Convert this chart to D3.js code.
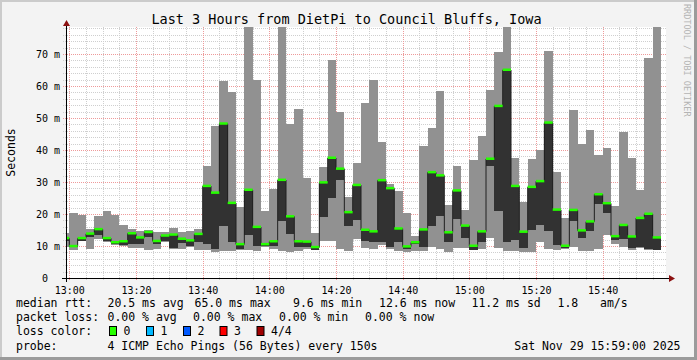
<!DOCTYPE html>
<html><head><meta charset="utf-8">
<script src="https://cdn.jsdelivr.net/npm/d3@7"></script>
<style>
html,body{margin:0;padding:0;background:#f3f3f3;}
svg{display:block;}
text{font-family:"DejaVu Sans Mono",monospace;}
</style></head><body>
<svg id="c" width="697" height="360"></svg>
<script>
const titleText = "Last 3 Hours from DietPi to Council Bluffs, Iowa";
const yAxisTitle = "Seconds";
const sideText = "RRDTOOL / TOBI OETIKER";
const startTime = "2025-11-29T12:59:00Z";
const endTime = "2025-11-29T15:59:00Z";
const firstBarStart = "2025-11-29T12:57:30Z";
const stepSeconds = 150;
const yTicks = [0, 10, 20, 30, 40, 50, 60, 70];
const yMax = 78.44;

// ping values in ms, one entry per 150 s step
const minRtt = [9.8,8.8,11.5,9.2,12.3,11.4,10.2,10.1,9.5,9.5,8.8,9.2,11.3,9.2,9.2,9.7,8.8,8.8,8.2,8.4,8.4,8.8,8.8,8.4,9.8,9.2,8.4,8.2,8.4,9.0,8.6,11.7,11.7,9.2,8.4,12.2,9.5,9.2,10.2,9.0,8.4,8.2,8.4,8.4,9.7,9.0,8.2,9.5,9.5,8.7,9.0,12.6,9.5,8.4,8.4,8.2,8.2,11.1,9.0,8.8,9.2,9.8,8.4,8.4,9.2,13.5,10.5,9.8,8.8,9.5,8.8,8.6];
const lowRtt = [11.5,9.6,11.7,12.7,13.3,11.5,10.6,10.3,10.6,10.6,12.7,10.6,11.5,9.5,11.0,9.9,11.1,10.6,9.2,16.1,11.1,9.2,13.5,10.0,10.0,10.1,17.8,13.9,9.8,9.8,8.8,19.2,25.1,30.7,16.1,18.1,11.7,11.1,11.1,9.6,11.1,9.2,10.6,9.8,16.3,19.4,11.4,18.5,12.6,8.8,11.4,35.1,20.8,11.4,11.9,9.5,15.0,16.6,14.8,10.3,9.5,17.8,12.6,14.8,23.2,20.4,11.9,12.3,9.5,9.8,9.2,8.8];
const medRtt = [12.4,9.9,12.4,13.8,15.2,12.4,11.1,11.4,13.9,12.6,14.3,11.5,13.2,13.5,12.2,11.7,13.7,28.7,26.6,48.2,23.4,10.5,27.5,15.9,10.5,11.4,30.6,19.2,11.4,11.3,9.6,29.8,37.5,34.1,20.5,29.0,15.0,14.5,30.5,28.0,15.4,9.8,11.1,15.1,33.0,32.0,14.2,27.3,16.3,10.0,14.5,37.2,53.7,65.0,28.7,14.4,28.4,30.2,48.5,21.3,10.0,21.2,14.8,17.6,26.1,23.3,13.0,16.5,12.9,18.7,20.0,12.6];
const maxRtt = [14.1,20.3,19.7,15.3,19.4,21.0,19.7,16.6,15.3,14.8,15.0,14.4,14.4,15.6,14.4,14.8,15.3,35.0,47.6,61.6,58.2,22.2,78.4,62.0,21.0,27.8,78.4,48.2,52.9,31.4,14.1,34.7,68.0,51.9,25.4,36.0,54.8,62.0,42.6,29.4,27.2,20.3,13.1,41.3,46.9,58.5,22.8,35.0,21.1,36.9,44.4,58.8,70.7,78.4,37.5,23.8,37.2,40.0,71.0,33.2,18.8,52.6,41.9,46.3,38.5,40.7,22.5,45.7,37.5,27.5,68.8,78.4];

const legendRtt = [["median rtt:",16],["20.5 ms avg",107.5],["65.0 ms max",194.5],["9.6 ms min",293],["12.6 ms now",379],["11.2 ms sd",471.5],["1.8",557.5],["am/s",600]];
const legendLoss = [["packet loss:",16],["0.00 % avg",107.5],["0.00 % max",193],["0.00 % min",279],["0.00 % now",365]];
const lossLabels = ["0","1","2","3","4/4"];
const lossColors = ["#26ff00","#00b8ff","#0059ff","#ff0000","#a00000"];
const probeText = "4 ICMP Echo Pings (56 Bytes) every 150s";
const dateText = "Sat Nov 29 15:59:00 2025";

const svg = d3.select("#c");
const W = 697, H = 360;
const X0 = 66, X1 = 666, Y0 = 278, Y1 = 27;

svg.append("rect").attr("width",W).attr("height",H).attr("fill","#f3f3f3");
svg.append("rect").attr("x",0).attr("y",0).attr("width",W).attr("height",2).attr("fill","#cbcbcb");
svg.append("rect").attr("x",0).attr("y",0).attr("width",2).attr("height",H).attr("fill","#cbcbcb");
svg.append("rect").attr("x",W-3).attr("y",0).attr("width",3).attr("height",H).attr("fill","#9b9b9b");
svg.append("rect").attr("x",0).attr("y",H-3).attr("width",W).attr("height",3).attr("fill","#9b9b9b");

const t0 = new Date(startTime), t1 = new Date(endTime);
const x = d3.scaleUtc().domain([t0,t1]).range([X0,X1]);
const y = d3.scaleLinear().domain([0,yMax]).range([Y0,Y1]);

svg.append("rect").attr("x",X0).attr("y",Y1).attr("width",X1-X0).attr("height",Y0-Y1).attr("fill","#ffffff");

// grid
const g = svg.append("g");
const minorY = d3.range(2, yMax, 2).filter(v => v % 10 !== 0);
g.selectAll(".hm").data(minorY).join("line")
  .attr("x1",X0-3).attr("x2",X1).attr("y1",d=>Math.round(y(d))+0.5).attr("y2",d=>Math.round(y(d))+0.5)
  .attr("stroke","#cfcfcf").attr("stroke-dasharray","1,1");
const minorX = d3.utcMinute.every(5).range(t0,t1).filter(d => d.getUTCMinutes() % 20 !== 0);
g.selectAll(".vm").data(minorX).join("line")
  .attr("y1",Y1).attr("y2",Y0+2).attr("x1",d=>Math.round(x(d))+0.5).attr("x2",d=>Math.round(x(d))+0.5)
  .attr("stroke","#cfcfcf").attr("stroke-dasharray","1,1");
const majorY = yTicks.filter(v=>v>0);
g.selectAll(".hM").data(majorY).join("line")
  .attr("x1",X0-3).attr("x2",X1).attr("y1",d=>Math.round(y(d))+0.5).attr("y2",d=>Math.round(y(d))+0.5)
  .attr("stroke","#ee9a9a").attr("stroke-dasharray","1,1");
const majorX = d3.utcMinute.every(20).range(t0,t1);
g.selectAll(".vM").data(majorX).join("line")
  .attr("y1",Y1).attr("y2",Y0+3).attr("x1",d=>Math.round(x(d))+0.5).attr("x2",d=>Math.round(x(d))+0.5)
  .attr("stroke","#ee9a9a").attr("stroke-dasharray","1,1");

// bars
const b0 = new Date(firstBarStart);
const bars = medRtt.map((m,i) => {
  const s = new Date(b0.getTime() + i*stepSeconds*1000);
  const e = new Date(s.getTime() + stepSeconds*1000);
  const xs = Math.max(x(s), X0), xe = Math.min(x(e), X1);
  return {xs, xe, min:minRtt[i], low:lowRtt[i], med:m, max:maxRtt[i]};
});
const plot = svg.append("g");
plot.selectAll(".smoke1").data(bars).join("rect")
  .attr("x",d=>d.xs).attr("width",d=>d.xe-d.xs)
  .attr("y",d=>y(Math.min(d.max,yMax))).attr("height",d=>y(d.min)-y(Math.min(d.max,yMax)))
  .attr("fill","#919191").attr("shape-rendering","crispEdges");
plot.selectAll(".smoke2").data(bars).join("rect")
  .attr("x",d=>d.xs).attr("width",d=>d.xe-d.xs)
  .attr("y",d=>y(d.med)).attr("height",d=>y(d.low)-y(d.med))
  .attr("fill","#323232").attr("shape-rendering","crispEdges");
const linePts = bars.map(d=>[d.xs,d.med]).concat([[bars[bars.length-1].xe, bars[bars.length-1].med]]);
plot.append("path").datum(linePts)
  .attr("d", d3.line().x(d=>d[0]).y(d=>y(d[1])).curve(d3.curveStepAfter))
  .attr("fill","none").attr("stroke","#202020").attr("stroke-width",1);
plot.selectAll(".med").data(bars).join("rect")
  .attr("x",d=>d.xs).attr("width",d=>d.xe-d.xs)
  .attr("y",d=>y(d.med)-1.5).attr("height",2.5)
  .attr("fill",lossColors[0]);

// axes
svg.append("line").attr("x1",X0-4).attr("x2",X1+4).attr("y1",Y0+0.5).attr("y2",Y0+0.5).attr("stroke","#000");
svg.append("line").attr("x1",X0+0.5).attr("x2",X0+0.5).attr("y1",Y0+4).attr("y2",Y1-5).attr("stroke","#000");
svg.append("path").attr("d",`M${X1+3},${Y0-3}L${X1+9},${Y0+0.5}L${X1+3},${Y0+4}Z`).attr("fill","#8b1010");
svg.append("path").attr("d",`M${X0-3},${Y1-1}L${X0+0.5},${Y1-7}L${X0+4},${Y1-1}Z`).attr("fill","#8b1010");

const xAxis = d3.axisBottom(x).tickValues(majorX).tickFormat(d3.utcFormat("%H:%M")).tickSize(0).tickPadding(0);
const xa = svg.append("g").attr("transform",`translate(0,${Y0})`).call(xAxis);
xa.select(".domain").remove();
xa.selectAll("text").attr("y",16).attr("dy",null).attr("font-family","DejaVu Sans Mono").attr("font-size",10).attr("fill","#000");

const yAxis = d3.axisLeft(y).tickValues(yTicks).tickFormat(v => v===0 ? "0" : v+" m").tickSize(0).tickPadding(0);
const ya = svg.append("g").attr("transform",`translate(60,0)`).call(yAxis);
ya.select(".domain").remove();
ya.selectAll("text").attr("font-family","DejaVu Sans Mono").attr("font-size",10).attr("fill","#000")
  .attr("dy","0.35em").attr("x",v=>v===0?-12:0);

// titles
svg.append("text").attr("x",346.5).attr("y",24).attr("text-anchor","middle").attr("font-size",13.5).attr("fill","#000").text(titleText);
svg.append("text").attr("transform","translate(15,152.5) rotate(-90)").attr("text-anchor","middle").attr("font-size",11.5).attr("fill","#000").text(yAxisTitle);
svg.append("text").attr("transform","translate(684,4) rotate(90)").attr("text-anchor","start").attr("font-size",8.5).attr("fill","#b4b4b4").text(sideText);

// legend
const L = svg.append("g").attr("font-size",11.5).attr("fill","#000");
L.selectAll(".l1").data(legendRtt).join("text").attr("x",d=>d[1]).attr("y",307).attr("xml:space","preserve").text(d=>d[0]);
L.selectAll(".l2").data(legendLoss).join("text").attr("x",d=>d[1]).attr("y",321).text(d=>d[0]);
L.append("text").attr("x",16).attr("y",335).text("loss color:");
const boxX = [109,146,183,219.5,256.5];
lossLabels.forEach((lab,i)=>{
  L.append("rect").attr("x",boxX[i]+0.5).attr("y",326.5).attr("width",7).attr("height",9).attr("fill",lossColors[i]).attr("stroke","#000").attr("stroke-width",1);
  L.append("text").attr("x",boxX[i]+14.5).attr("y",335).text(lab);
});
L.append("text").attr("x",16).attr("y",350).text("probe:");
L.append("text").attr("x",107.5).attr("y",350).text(probeText);
L.append("text").attr("x",680.5).attr("y",350).attr("text-anchor","end").text(dateText);
</script>
</body></html>
